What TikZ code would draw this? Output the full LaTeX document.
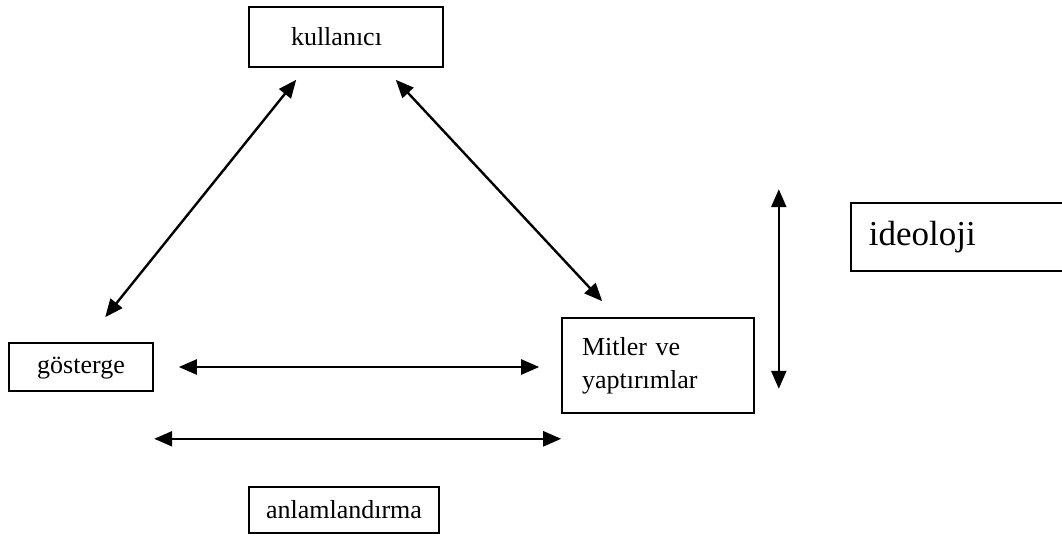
\documentclass[tikz,border=0pt]{standalone}
\usepackage{fontspec}
\setmainfont{Liberation Serif}
\usetikzlibrary{arrows.meta,positioning}

\begin{document}
\begin{tikzpicture}[
  x=1pt,y=-1pt,
  dblarr/.style={{Triangle[length=18pt,width=15pt]}-{Triangle[length=18pt,width=15pt]},line width=2.4pt},
  kutu/.style={draw,line width=1.6pt,inner sep=0pt,font=\fontsize{26pt}{33pt}\selectfont}
]
\useasboundingbox (0,0) rectangle (1062,538);
% kutular
\node[kutu,minimum width=194pt,minimum height=60pt,text width=150pt,align=left] (kul) at (346,37)
  {\hspace*{20pt}kullan\i c\i};
\node[kutu,minimum width=144pt,minimum height=48pt,text depth=4pt] (gos) at (81,367) {g\"osterge};
\node[kutu,minimum width=192pt,minimum height=95pt,text width=152pt,align=left] (mit) at (658,365.5)
  {Mitler ve\\yapt\i r\i mlar};
\node[kutu,anchor=west,minimum width=240pt,minimum height=68pt,text width=204pt,align=left,
  font=\fontsize{35pt}{40pt}\selectfont] (ideo) at (850,237) {ideoloji};
\node[kutu,minimum width=190pt,minimum height=46pt] (anl) at (344,510) {anlamland\i rma};
% ok uclari
\coordinate (kulL) at ([xshift=48pt,yshift=-12pt]kul.south west);
\coordinate (kulR) at ([xshift=-48pt,yshift=-12pt]kul.south east);
\coordinate (gosT) at ([xshift=97pt,yshift=25pt]gos.north west);
\coordinate (mitT) at ([xshift=41pt,yshift=16pt]mit.north west);
\coordinate (altL) at ([xshift=146pt,yshift=-47pt]gos.south west);
\coordinate (altR) at ([yshift=-25pt]mit.south west);
\coordinate (dikU) at ([xshift=24pt,yshift=128pt]mit.north east);
\coordinate (dikA) at ([xshift=24pt,yshift=25pt]mit.south east);
% oklar
\draw[dblarr] (kulL) -- (gosT);
\draw[dblarr] (kulR) -- (mitT);
\draw[dblarr,shorten <=25pt,shorten >=22pt] (gos.east) -- (gos.east -| mit.west);
\draw[dblarr] (altL) -- (altR);
\draw[dblarr] (dikU) -- (dikA);
\end{tikzpicture}
\end{document}
